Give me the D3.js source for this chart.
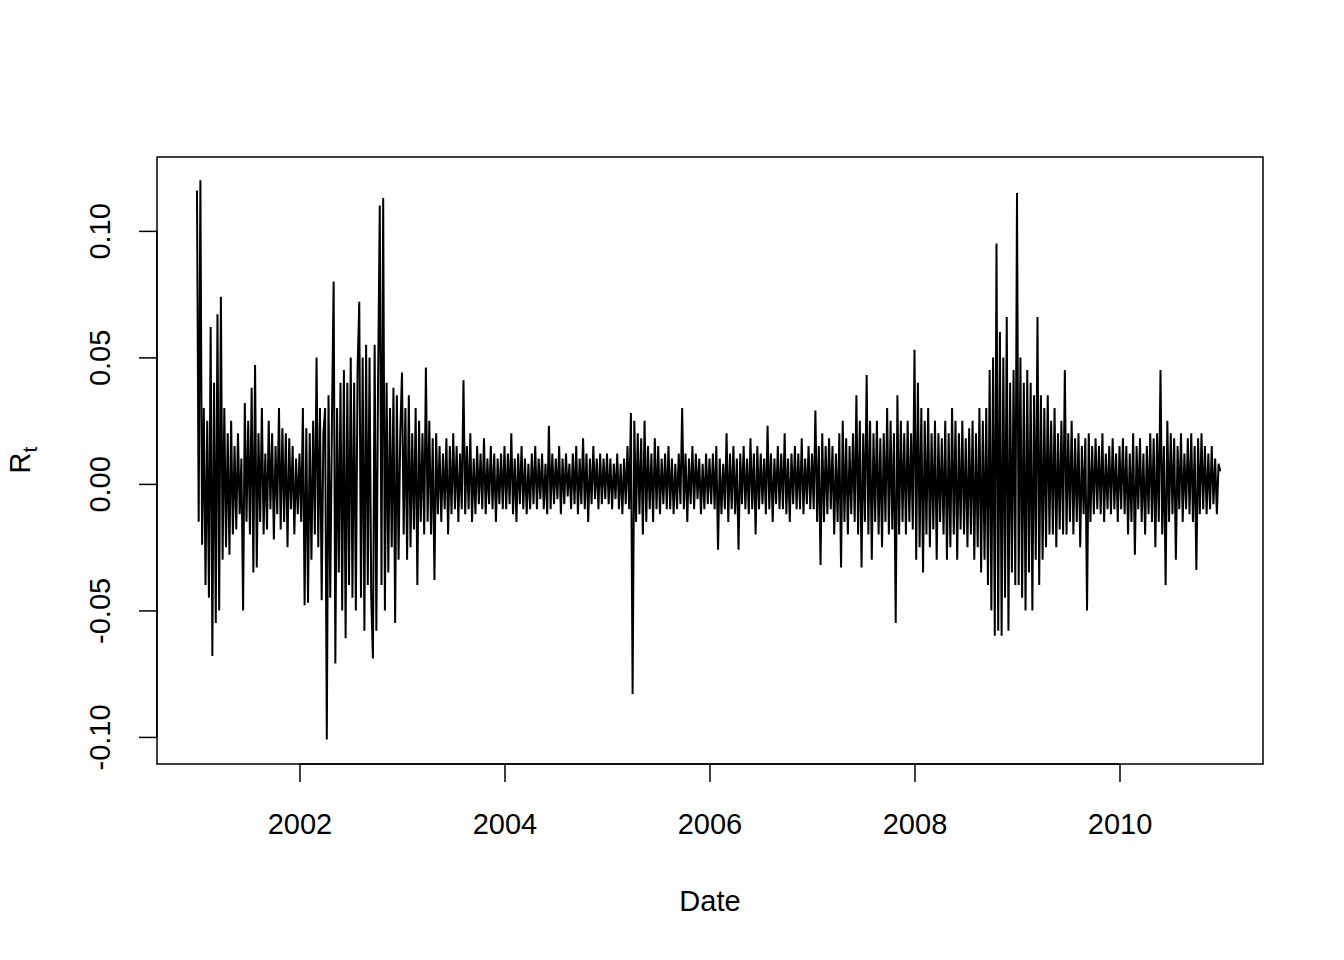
<!DOCTYPE html>
<html><head><meta charset="utf-8">
<script src="https://cdn.jsdelivr.net/npm/d3@7"></script>
<style>body{margin:0;background:#fff}text{font-family:"Liberation Sans",Arial,sans-serif}</style>
</head><body><svg id="c" width="1344" height="960"></svg>
<script>
const years = [2001,2002,2003,2004,2005,2006,2007,2008,2009,2010];
const r2001 = [0.116,-0.015,0.12,-0.024,0.03,-0.04,0.025,-0.045,0.062,-0.068,0.04,-0.055,0.067,-0.05,0.074,-0.03,0.03,-0.025,0.02,-0.028,0.025,-0.02,0.015,-0.018,0.02,-0.012,0.01,-0.05,0.032,-0.015,0.025,-0.02,0.038,-0.035,0.047,-0.033,0.02,-0.015,0.03,-0.02,0.012,-0.018,0.025,-0.01,0.02,-0.022,0.015,-0.012,0.03,-0.018,0.022,-0.015,0.02,-0.025,0.018,-0.01,0.015,-0.02,0.01,-0.012];
const r2002 = [0.012,-0.015,0.03,-0.048,0.022,-0.047,0.02,-0.03,0.025,-0.02,0.05,-0.025,0.03,-0.046,0.02,0.03,-0.101,0.035,-0.045,0.025,0.08,-0.071,0.03,-0.035,0.04,-0.05,0.045,-0.061,0.04,-0.04,0.05,-0.045,0.04,-0.05,0.045,0.072,-0.045,0.05,-0.058,0.055,-0.04,0.05,-0.045,-0.069,0.055,-0.058,0.04,0.11,-0.04,0.113,-0.05,0.04,-0.035,0.03,-0.025,0.038,-0.055,0.035,-0.03,0.02];
const r2003 = [0.044,-0.02,0.03,-0.03,0.035,-0.025,0.02,-0.018,0.03,-0.04,0.025,-0.015,0.02,-0.02,0.046,-0.015,0.025,-0.02,0.018,-0.038,0.02,-0.012,0.015,-0.015,0.012,-0.01,0.018,-0.02,0.015,-0.012,0.02,-0.01,0.015,-0.015,0.012,-0.01,0.041,-0.012,0.015,-0.01,0.02,-0.015,0.01,-0.012,0.015,-0.008,0.012,-0.01,0.018,-0.012,0.01,-0.008,0.015,-0.01,0.012,-0.015,0.01,-0.008,0.012,-0.01];
const r2004 = [0.015,-0.01,0.012,-0.008,0.02,-0.012,0.01,-0.015,0.012,-0.008,0.015,-0.01,0.01,-0.012,0.008,-0.01,0.012,-0.008,0.015,-0.01,0.01,-0.006,0.012,-0.01,0.008,-0.012,0.023,-0.01,0.012,-0.008,0.01,-0.006,0.015,-0.012,0.01,-0.008,0.012,-0.005,0.008,-0.01,0.012,-0.008,0.015,-0.012,0.01,-0.008,0.018,-0.01,0.012,-0.015,0.01,-0.008,0.015,-0.006,0.01,-0.01,0.012,-0.008,0.01,-0.006];
const r2005 = [0.012,-0.008,0.01,-0.01,0.008,-0.006,0.012,-0.01,0.008,-0.012,0.01,-0.008,0.015,-0.01,0.028,-0.083,0.025,-0.015,0.02,-0.012,0.018,-0.02,0.025,-0.015,0.015,-0.01,0.012,-0.015,0.018,-0.01,0.015,-0.012,0.01,-0.008,0.012,-0.01,0.015,-0.01,0.01,-0.012,0.008,-0.01,0.012,-0.008,0.03,-0.01,0.012,-0.015,0.01,-0.008,0.015,-0.01,0.012,-0.006,0.01,-0.012,0.008,-0.01,0.012,-0.008];
const r2006 = [0.01,-0.008,0.012,-0.01,0.015,-0.026,0.01,-0.012,0.008,-0.01,0.02,-0.015,0.012,-0.01,0.015,-0.012,0.01,-0.026,0.012,-0.008,0.015,-0.01,0.01,-0.012,0.018,-0.01,0.012,-0.02,0.015,-0.01,0.012,-0.008,0.01,-0.012,0.023,-0.01,0.012,-0.015,0.01,-0.008,0.015,-0.01,0.012,-0.01,0.02,-0.012,0.01,-0.015,0.012,-0.008,0.015,-0.01,0.012,-0.01,0.018,-0.012,0.01,-0.008,0.015,-0.01];
const r2007 = [0.012,-0.01,0.029,-0.015,0.015,-0.032,0.02,-0.015,0.015,-0.012,0.018,-0.01,0.015,-0.02,0.012,-0.015,0.02,-0.033,0.025,-0.015,0.018,-0.02,0.015,-0.012,0.02,-0.015,0.035,-0.02,0.025,-0.033,0.02,-0.015,0.043,-0.02,0.025,-0.03,0.02,-0.015,0.025,-0.02,0.018,-0.025,0.02,-0.015,0.03,-0.02,0.025,-0.018,0.02,-0.055,0.035,-0.02,0.025,-0.015,0.02,-0.02,0.025,-0.015,0.02,-0.018];
const r2008 = [0.053,-0.03,0.04,-0.025,0.03,-0.035,0.025,-0.02,0.03,-0.025,0.02,-0.018,0.025,-0.03,0.02,-0.015,0.018,-0.02,0.025,-0.03,0.02,-0.025,0.03,-0.02,0.025,-0.03,0.02,-0.018,0.025,-0.02,0.018,-0.025,0.022,-0.02,0.025,-0.03,0.02,-0.025,0.03,-0.035,0.025,-0.03,0.03,-0.04,0.045,-0.05,0.05,-0.06,0.095,-0.058,0.06,-0.06,0.05,-0.045,0.066,-0.058,0.04,-0.035,0.045,-0.04];
const r2009 = [0.115,-0.04,0.05,-0.045,0.04,-0.05,0.045,-0.035,0.04,-0.05,0.035,-0.03,0.066,-0.04,0.035,-0.03,0.03,-0.025,0.035,-0.02,0.025,-0.02,0.03,-0.025,0.02,-0.018,0.025,-0.02,0.045,-0.02,0.02,-0.015,0.025,-0.02,0.018,-0.015,0.02,-0.025,0.015,-0.012,0.018,-0.05,0.02,-0.015,0.015,-0.012,0.018,-0.01,0.015,-0.012,0.02,-0.015,0.012,-0.01,0.015,-0.012,0.018,-0.01,0.012,-0.015];
const r2010 = [0.015,-0.01,0.018,-0.012,0.015,-0.02,0.012,-0.015,0.02,-0.028,0.015,-0.01,0.018,-0.015,0.012,-0.02,0.015,-0.012,0.02,-0.015,0.018,-0.025,0.02,-0.015,0.045,-0.02,0.015,-0.04,0.025,-0.015,0.02,-0.012,0.018,-0.03,0.015,-0.01,0.02,-0.015,0.012,-0.01,0.018,-0.012,0.02,-0.015,0.015,-0.034,0.018,-0.012,0.02,-0.01,0.015,-0.012,0.012,-0.01,0.015,-0.008,0.01,-0.012,0.008,0.005];
const yearReturns = [r2001,r2002,r2003,r2004,r2005,r2006,r2007,r2008,r2009,r2010];
const xTicks = [2002,2004,2006,2008,2010];
const yTicks = [-0.10,-0.05,0,0.05,0.10];

const data = [];
yearReturns.forEach((arr, yi) => arr.forEach((v, k) => data.push({t: years[yi] + k / arr.length, v})));

const svg = d3.select('#c');
const L = 157, R = 1263, T = 157, B = 764;
const x = d3.scaleLinear().domain([2000.61, 2011.4]).range([L, R]);
const y = d3.scaleLinear().domain([-0.1107, 0.1292]).range([B, T]);

svg.append('path').datum(data)
  .attr('d', d3.line().x(d => x(d.t)).y(d => y(d.v)))
  .attr('fill', 'none').attr('stroke', '#000').attr('stroke-width', 2);

svg.append('rect').attr('x', L).attr('y', T).attr('width', R - L).attr('height', B - T)
  .attr('fill', 'none').attr('stroke', '#000').attr('stroke-width', 1.5);

// X axis
const gx = svg.append('g').attr('transform', `translate(0,${B})`)
  .call(d3.axisBottom(x).tickValues(xTicks).tickFormat(d3.format('d')).tickSize(18).tickSizeOuter(0));
gx.select('.domain').attr('d', `M${x(2002)},0H${x(2010)}`).attr('stroke-width', 1.5);
gx.selectAll('.tick line').attr('stroke-width', 1.5);
gx.selectAll('text').attr('font-size', 29).attr('dy', 0).attr('y', 70).attr('fill', '#000');

// Y axis
const fmt = d => d3.format('.2f')(d).replace('\u2212', '-');
const gy = svg.append('g').attr('transform', `translate(${L},0)`)
  .call(d3.axisLeft(y).tickValues(yTicks).tickFormat(fmt).tickSize(18).tickSizeOuter(0));
gy.select('.domain').attr('d', `M0,${y(-0.1)}V${y(0.1)}`).attr('stroke-width', 1.5);
gy.selectAll('.tick line').attr('stroke-width', 1.5);
gy.selectAll('text').attr('font-size', 29).attr('x', null).attr('dy', null)
  .attr('text-anchor', 'middle').attr('fill', '#000')
  .attr('transform', 'translate(-57,0) rotate(-90)').attr('y', 10);

svg.append('text').attr('x', 710).attr('y', 911).attr('text-anchor', 'middle')
  .attr('font-size', 29).text('Date');
const yl = svg.append('text').attr('transform', 'translate(30,460) rotate(-90)')
  .attr('text-anchor', 'middle').attr('font-size', 29);
yl.append('tspan').text('R');
yl.append('tspan').attr('font-size', 21).attr('dy', 7).text('t');
</script></body></html>
